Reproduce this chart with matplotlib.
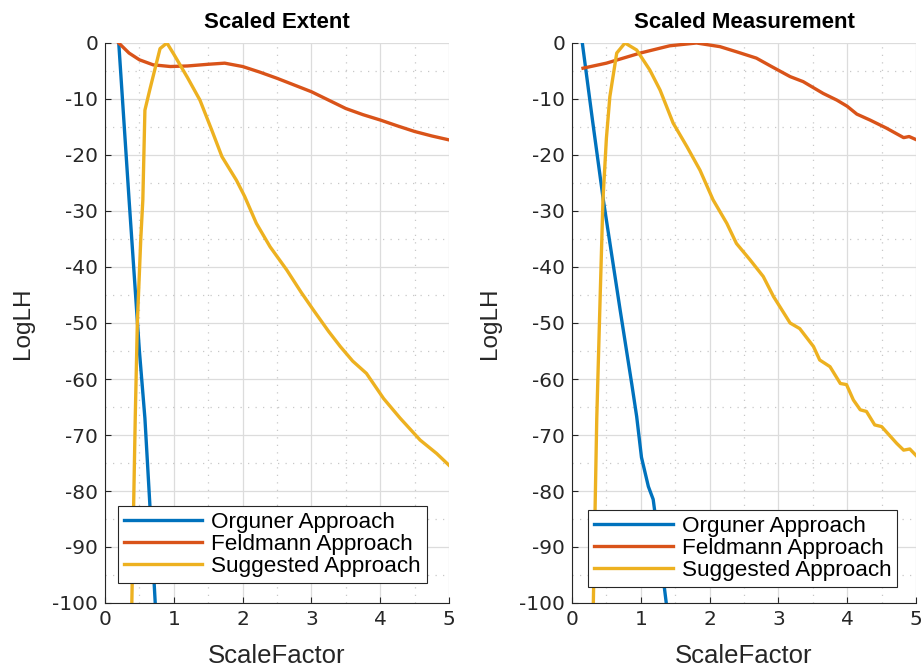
import matplotlib
matplotlib.use("Agg")
import matplotlib.pyplot as plt
from matplotlib.ticker import MultipleLocator

plt.rcParams['font.family'] = ['Liberation Sans', 'DejaVu Sans']
plt.rcParams['axes.unicode_minus'] = False

titles = ["Scaled Extent", "Scaled Measurement"]
legend_labels = ["Orguner Approach", "Feldmann Approach", "Suggested Approach"]
colors = ["#0072BD", "#D95319", "#EDB120"]

# Left panel: Scaled Extent
ext_org_x = [0.2, 0.35, 0.5, 0.58, 0.65, 0.73]
ext_org_y = [0, -28, -55, -67, -82, -100]
ext_fel_x = [0.2, 0.35, 0.5, 0.7, 0.95, 1.2, 1.5, 1.74, 2.0, 2.25, 2.5, 2.75, 3.0, 3.25, 3.5, 3.75, 4.0, 4.25, 4.5, 4.75, 5.0]
ext_fel_y = [0, -1.8, -3.0, -3.9, -4.2, -4.1, -3.8, -3.6, -4.2, -5.2, -6.3, -7.5, -8.7, -10.2, -11.7, -12.8, -13.75, -14.8, -15.8, -16.6, -17.3]
ext_sug_x = [0.39, 0.42, 0.44, 0.47, 0.52, 0.55, 0.58, 0.65, 0.8, 0.9, 1.0, 1.2, 1.38, 1.55, 1.70, 1.91, 2.03, 2.2, 2.4, 2.64, 2.85, 3.03, 3.25, 3.42, 3.6, 3.80, 4.05, 4.29, 4.58, 4.82, 5.0]
ext_sug_y = [-100, -80, -66.7, -50, -35, -28, -12, -8.4, -1, 0, -2.0, -6.2, -10.2, -15.5, -20.3, -24.5, -27.4, -32.2, -36.4, -40.5, -44.5, -47.7, -51.5, -54.2, -56.8, -59.0, -63.5, -67.0, -70.9, -73.3, -75.4]

# Right panel: Scaled Measurement
mea_org_x = [0.15, 0.3, 0.455, 0.7, 0.87, 0.94, 1.01, 1.11, 1.18, 1.25, 1.37]
mea_org_y = [0, -14, -28, -47.7, -61, -66.7, -74, -79.2, -81.5, -88, -100]
mea_fel_x = [0.16, 0.5, 0.99, 1.42, 1.81, 2.15, 2.4, 2.68, 2.9, 3.17, 3.36, 3.65, 3.85, 4.0, 4.14, 4.33, 4.57, 4.82, 4.9, 5.01]
mea_fel_y = [-4.5, -3.6, -1.8, -0.5, 0, -0.65, -1.6, -2.7, -4.2, -6.0, -6.9, -9.0, -10.2, -11.3, -12.7, -13.75, -15.2, -16.9, -16.7, -17.3]
mea_sug_x = [0.31, 0.36, 0.41, 0.45, 0.5, 0.55, 0.65, 0.77, 0.94, 1.13, 1.28, 1.47, 1.67, 1.86, 2.05, 2.25, 2.39, 2.59, 2.78, 2.93, 3.17, 3.31, 3.51, 3.60, 3.75, 3.90, 3.99, 4.09, 4.19, 4.28, 4.40, 4.50, 4.72, 4.82, 4.91, 5.02]
mea_sug_y = [-100, -67, -45, -28, -17, -9.6, -1.8, 0, -1.25, -4.8, -8.4, -14.3, -18.5, -22.7, -28, -32.2, -35.8, -38.75, -41.7, -45.3, -50, -51, -54.2, -56.6, -57.8, -60.8, -61, -63.75, -65.5, -65.8, -68.2, -68.5, -71.5, -72.7, -72.5, -73.9]

panels = [
    (titles[0], [(ext_org_x, ext_org_y), (ext_fel_x, ext_fel_y), (ext_sug_x, ext_sug_y)], (0.038, 0.036)),
    (titles[1], [(mea_org_x, mea_org_y), (mea_fel_x, mea_fel_y), (mea_sug_x, mea_sug_y)], (0.047, 0.029)),
]

fig = plt.figure(figsize=(9.24, 6.71), dpi=100)
lefts = [105 / 924, 572 / 924]
for (title, series, lpos), left in zip(panels, lefts):
    ax = fig.add_axes([left, 1 - 603 / 671, 344 / 924, 560 / 671])
    for (xs, ys), c, lab in zip(series, colors, legend_labels):
        ax.plot(xs, ys, color=c, lw=2.4, label=lab, solid_joinstyle='round')
    ax.set_xlim(0, 5)
    ax.set_ylim(-100, 0)
    ax.xaxis.set_major_locator(MultipleLocator(1))
    ax.yaxis.set_major_locator(MultipleLocator(10))
    ax.xaxis.set_minor_locator(MultipleLocator(0.5))
    ax.yaxis.set_minor_locator(MultipleLocator(5))
    ax.grid(True, which='major', color='#dcdcdc', lw=0.9)
    ax.grid(True, which='minor', color='#c8c8c8', lw=0.9, ls=(0, (1, 5)))
    ax.set_axisbelow(True)
    for s in ['top', 'right']:
        ax.spines[s].set_visible(False)
    for s in ['left', 'bottom']:
        ax.spines[s].set_color('#262626')
        ax.spines[s].set_linewidth(0.8)
    ax.tick_params(which='major', direction='in', length=4, colors='#262626', pad=5)
    ax.tick_params(which='minor', length=0)
    for lbl in ax.get_xticklabels() + ax.get_yticklabels():
        lbl.set_fontfamily(['DejaVu Sans'])
        lbl.set_fontsize(14.5)
    ax.set_title(title, fontsize=16, fontweight='bold', pad=11)
    ax.set_xlabel("ScaleFactor", fontsize=18.5, color='#262626')
    ax.xaxis.set_label_coords(0.5, -0.073)
    ax.set_ylabel("LogLH", fontsize=17.5, color='#262626')
    ax.yaxis.set_label_coords(-0.207, 0.5)
    leg = ax.legend(loc='lower left', bbox_to_anchor=lpos, fontsize=16.2, handlelength=3.5,
                    handletextpad=0.4, borderpad=0.25, labelspacing=0.05, fancybox=False,
                    framealpha=1, edgecolor='#262626', borderaxespad=0)
    leg.get_frame().set_linewidth(0.8)

fig.savefig("out.png", dpi=100)
